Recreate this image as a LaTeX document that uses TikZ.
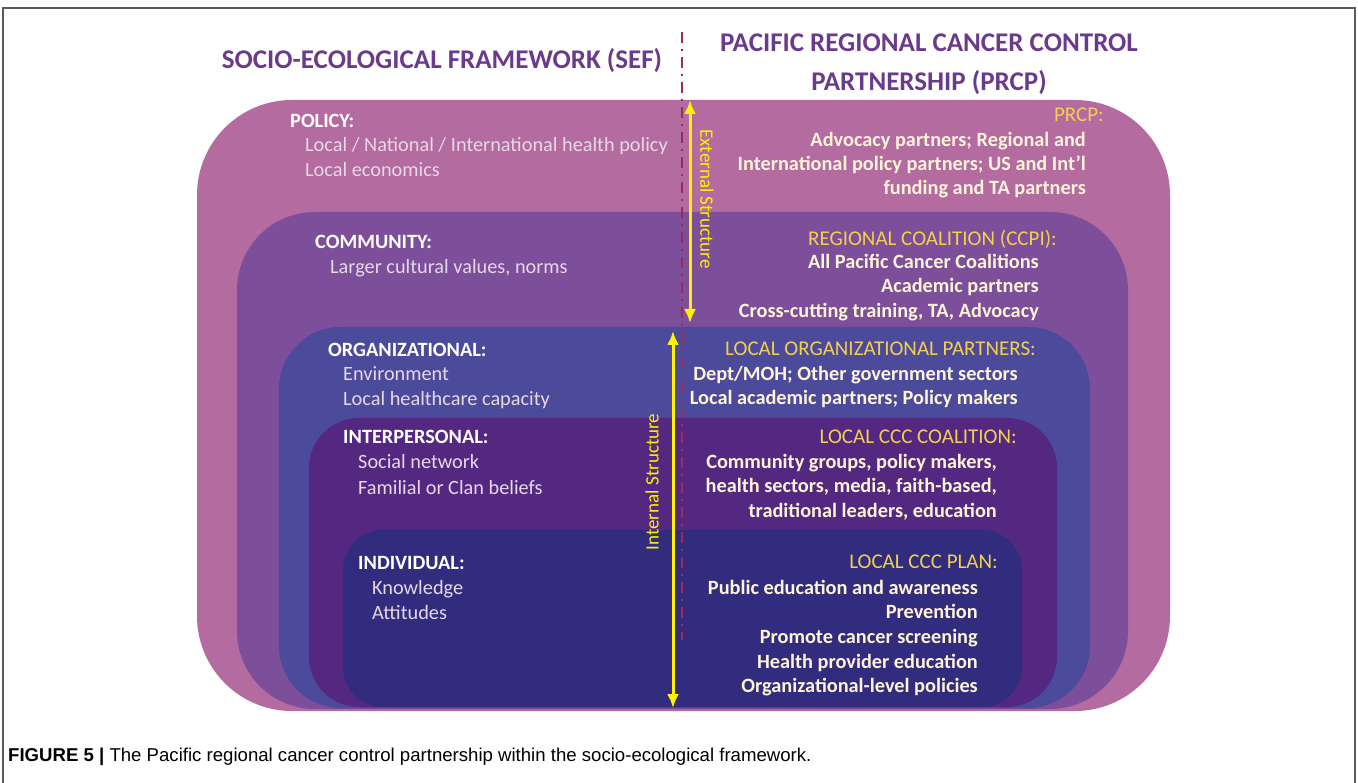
\documentclass[tikz,border=0pt]{standalone}
\usepackage{fontspec}
\setmainfont{Carlito}
\newfontfamily\capfont{Liberation Sans}
\usetikzlibrary{arrows.meta}
\definecolor{cpolicy}{HTML}{B36BA0}
\definecolor{ccomm}{HTML}{7D4E9A}
\definecolor{corg}{HTML}{4B4A9B}
\definecolor{cinter}{HTML}{542880}
\definecolor{cindiv}{HTML}{312C7D}
\definecolor{ctitle}{HTML}{6A3A8C}
\definecolor{cgold}{HTML}{F2D04E}
\definecolor{ccream}{HTML}{FFF4D8}
\definecolor{clbody}{HTML}{E6D8E8}
\definecolor{cyel}{HTML}{FFF200}
\definecolor{cdash}{HTML}{9C2A5C}
\definecolor{cframe}{HTML}{5A5A5A}
\begin{document}
\begin{tikzpicture}[x=1pt,y=-1pt,
  lhead/.style={anchor=base west, inner sep=0pt, font=\fontsize{20.3}{22}\selectfont\bfseries, text=white},
  lbody/.style={anchor=base west, inner sep=0pt, font=\fontsize{20.3}{22}\selectfont, text=clbody},
  rhead/.style={anchor=base east, inner sep=0pt, font=\fontsize{21}{23}\selectfont, text=cgold},
  rbody/.style={anchor=base east, inner sep=0pt, font=\fontsize{20.3}{22}\selectfont\bfseries, text=ccream},
  ttl/.style={inner sep=0pt, font=\fontsize{27}{30}\selectfont\bfseries, text=ctitle},
  yarrow/.style={draw=cyel, line width=3pt, {Latex[length=14pt,width=12pt]}-{Latex[length=14pt,width=12pt]}},
  ylab/.style={inner sep=0pt, font=\fontsize{19}{21}\selectfont, text=cyel},
  dashline/.style={draw=cdash, line width=2.2pt, dash pattern=on 11pt off 6pt on 2pt off 6pt}
]
\useasboundingbox (0,0) rectangle (1358,783);
\draw[cframe, line width=1.2pt] (3,795) -- (3,8) -- (1355,8) -- (1355,795);

% layers
\fill[cpolicy, rounded corners=95pt] (197,100) rectangle (1170,711);
\fill[ccomm, rounded corners=78pt] (237,212) rectangle (1128,709);
\fill[corg, rounded corners=62pt] (279,327) rectangle (1090,708);
\fill[cinter, rounded corners=50pt] (309,418) rectangle (1057,707);
\fill[cindiv, rounded corners=40pt] (343,530) rectangle (1022,707);

% titles
\node[ttl] (sef) at (442,61) {SOCIO-ECOLOGICAL FRAMEWORK (SEF)};
\node[ttl, align=center] (prcp) at (929,64) {PACIFIC REGIONAL CANCER CONTROL\\[9pt]PARTNERSHIP (PRCP)};

% divider
\coordinate (dtop) at (682,32);
\coordinate (dbot) at (682,640);
\draw[dashline] (dtop) -- (dbot);

% left texts
\node[lhead] (l1) at (290,128) {POLICY:};
\node[lbody] (l2) at (305,152) {Local / National / International health policy};
\node[lbody] (l3) at (305,177) {Local economics};
\node[lhead] (l4) at (315,249) {COMMUNITY:};
\node[lbody] (l5) at (330,274) {Larger cultural values, norms};
\node[lhead] (l6) at (328,357) {ORGANIZATIONAL:};
\node[lbody] (l7) at (343,381) {Environment};
\node[lbody] (l8) at (343,406) {Local healthcare capacity};
\node[lhead] (l9) at (343,444) {INTERPERSONAL:};
\node[lbody] (l10) at (358,469) {Social network};
\node[lbody] (l11) at (358,494) {Familial or Clan beliefs};
\node[lhead] (l12) at (358,569) {INDIVIDUAL:};
\node[lbody] (l13) at (372,594) {Knowledge};
\node[lbody] (l14) at (372,619) {Attitudes};

% right texts
\node[rhead] (r1) at (1104,122) {PRCP:};
\node[rbody] (r2) at (1086,147) {Advocacy partners; Regional and};
\node[rbody] (r3) at (1086,171) {International policy partners; US and Int’l};
\node[rbody] (r4) at (1086,195) {funding and TA partners};
\node[rhead] (r5) at (1057,246) {REGIONAL COALITION (CCPI):};
\node[rbody] (r6) at (1039,269) {All Pacific Cancer Coalitions};
\node[rbody] (r7) at (1039,293) {Academic partners};
\node[rbody] (r8) at (1039,318) {Cross-cutting training, TA, Advocacy};
\node[rhead] (r9) at (1036,356) {LOCAL ORGANIZATIONAL PARTNERS:};
\node[rbody] (r10) at (1018,381) {Dept/MOH; Other government sectors};
\node[rbody] (r11) at (1018,405) {Local academic partners; Policy makers};
\node[rhead] (r12) at (1017,444) {LOCAL CCC COALITION:};
\node[rbody] (r13) at (997,469) {Community groups, policy makers,};
\node[rbody] (r14) at (997,493) {health sectors, media, faith-based,};
\node[rbody] (r15) at (997,517) {traditional leaders, education};
\node[rhead] (r16) at (998,568) {LOCAL CCC PLAN:};
\node[rbody] (r17) at (978,594) {Public education and awareness};
\node[rbody] (r18) at (978,618) {Prevention};
\node[rbody] (r19) at (978,643) {Promote cancer screening};
\node[rbody] (r20) at (978,668) {Health provider education};
\node[rbody] (r21) at (978,692) {Organizational-level policies};

% arrows
\coordinate (etop) at (690,100);
\coordinate (ebot) at (690,323);
\draw[yarrow] (etop) -- (ebot);
\node[ylab, rotate=-90] (elab) at (707,199) {External Structure};
\coordinate (itop) at (673,331);
\coordinate (ibot) at (673,708);
\draw[yarrow] (itop) -- (ibot);
\node[ylab, rotate=90] (ilab) at (652,482) {Internal Structure};

% caption
\node[anchor=base west, inner sep=0pt, font=\capfont\fontsize{18.6}{20}\selectfont] (cap) at (8,761) {\textbf{FIGURE 5 |} The Pacific regional cancer control partnership within the socio-ecological framework.};
\end{tikzpicture}
\end{document}
